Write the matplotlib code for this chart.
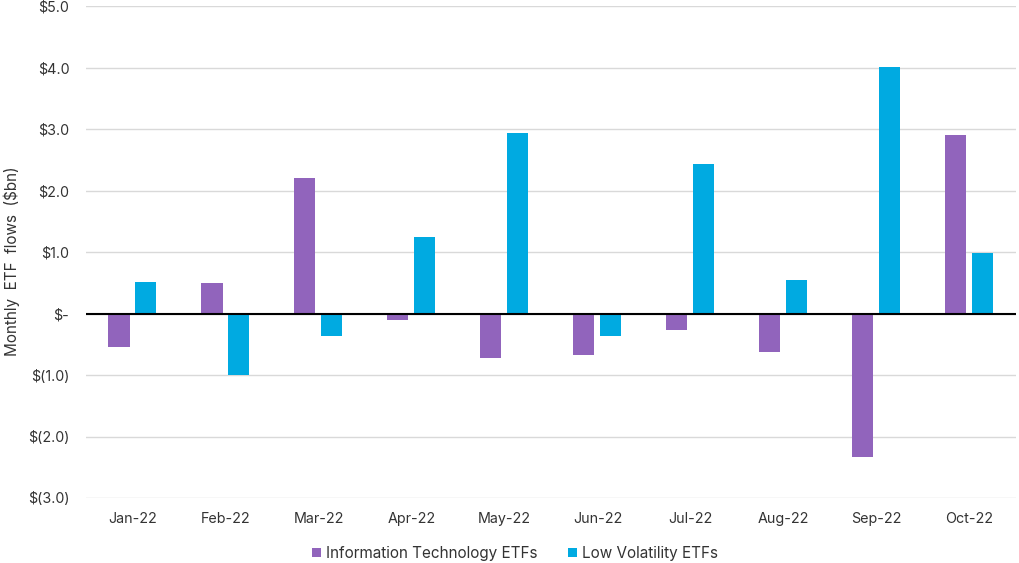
import matplotlib
matplotlib.use("Agg")
import matplotlib.pyplot as plt
import numpy as np

months = ["Jan-22", "Feb-22", "Mar-22", "Apr-22", "May-22", "Jun-22",
          "Jul-22", "Aug-22", "Sep-22", "Oct-22"]
it_etfs = [-0.54, 0.50, 2.21, -0.11, -0.72, -0.67, -0.26, -0.62, -2.34, 2.90]
lowvol_etfs = [0.52, -1.00, -0.36, 1.24, 2.94, -0.37, 2.44, 0.54, 4.01, 0.99]
yticks = [-3, -2, -1, 0, 1, 2, 3, 4, 5]
ytick_labels = ["$(3.0)", "$(2.0)", "$(1.0)", "$-", "$1.0", "$2.0", "$3.0", "$4.0", "$5.0"]

plt.rcParams['font.family'] = ['Inter', 'DejaVu Sans']

fig = plt.figure(figsize=(10.2, 5.63), dpi=100)
ax = fig.add_axes([0.0843, 0.1155, 0.9117, 0.8733])

x = np.arange(len(months))
w = 0.226
off = 0.145
ax.bar(x - off, it_etfs, w, color="#9164BC", label="Information Technology ETFs", zorder=3)
ax.bar(x + off, lowvol_etfs, w, color="#00AAE1", label="Low Volatility ETFs", zorder=3)

ax.set_xlim(-0.5, len(months) - 0.5)
ax.set_ylim(-3, 5)
ax.set_yticks(yticks)
ax.set_yticklabels(ytick_labels, fontsize=10.3, color="#333333")
ax.set_xticks(x)
ax.set_xticklabels(months, fontsize=10.3, color="#333333")
ax.tick_params(axis='both', length=0)
ax.tick_params(axis='y', pad=12)
ax.tick_params(axis='x', pad=10)
ax.grid(axis='y', color="#d9d9d9", linewidth=1, zorder=0)
ax.axhline(0, color="black", linewidth=1.5, zorder=4)
for s in ax.spines.values():
    s.set_visible(False)

ax.set_ylabel("Monthly  ETF  flows  ($bn)", fontsize=11, color="#333333")
ax.yaxis.set_label_coords(-0.071, 0.482)

leg = fig.legend(loc="center", bbox_to_anchor=(0.505, 0.017), ncol=2, frameon=False,
                 fontsize=11, handlelength=0.6, handleheight=0.6, handletextpad=0.3,
                 columnspacing=2.0)
for t in leg.get_texts():
    t.set_color("#333333")

fig.savefig("out.png", dpi=100)
